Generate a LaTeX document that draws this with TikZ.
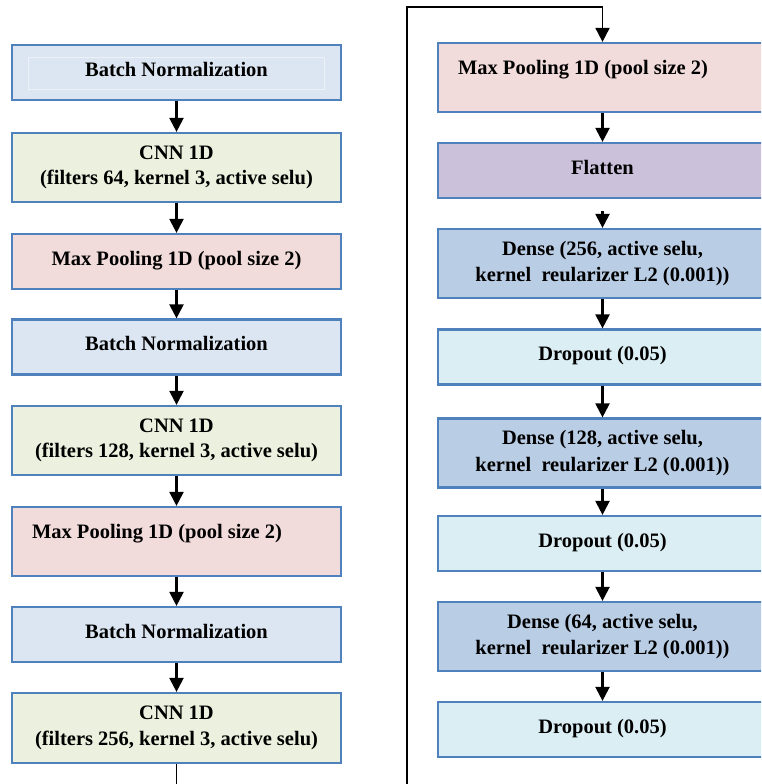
\documentclass[tikz,border=0pt]{standalone}
\usepackage{fontspec}
\setmainfont{Liberation Serif}
\usetikzlibrary{arrows.meta}
\definecolor{edgeblue}{HTML}{4F81BD}
\definecolor{bnfill}{HTML}{DCE6F2}
\definecolor{cnnfill}{HTML}{EBF1DE}
\definecolor{mpfill}{HTML}{F2DCDB}
\definecolor{flfill}{HTML}{CCC1DA}
\definecolor{dnfill}{HTML}{B9CDE5}
\definecolor{dofill}{HTML}{DBEEF4}
\tikzset{
  layer/.style={draw=edgeblue, line width=2.2pt, rectangle, minimum width=329pt,
    inner sep=0pt, align=center, font=\fontsize{20.5}{25.5}\selectfont\bfseries},
  one/.style={minimum height=55pt, text height=14pt, text depth=7pt},
  two/.style={minimum height=69pt},
  bn/.style={layer, one, fill=bnfill},
  cnn/.style={layer, two, fill=cnnfill},
  mp/.style={layer, one, fill=mpfill},
  mptop/.style={layer, two, fill=mpfill},
  fl/.style={layer, one, fill=flfill},
  dn/.style={layer, two, fill=dnfill, font=\fontsize{20.5}{26.5}\selectfont\bfseries},
  dro/.style={layer, one, fill=dofill},
  arr/.style={line width=2.2pt, -{Triangle[width=14pt,length=14pt]}},
  loopline/.style={line width=1.8pt}
}
\begin{document}
\begin{tikzpicture}[x=1pt,y=-1pt]
\useasboundingbox (0,0) rectangle (761,784);
\clip (0,0) rectangle (761,784);
% left column
\node[bn]  (b1) at (176.5,72.5) {Batch Normalization};
\draw[draw=white!45!bnfill, line width=0.7pt] (28,57) rectangle (324,89);
\node[cnn] (b2) at (176.5,167.5) {CNN 1D\\(filters 64, kernel 3, active selu)};
\node[mp]  (b3) at (176.5,261.5) {Max Pooling 1D (pool size 2)};
\node[bn]  (b4) at (176.5,347) {Batch Normalization};
\node[cnn] (b5) at (176.5,440.5) {CNN 1D\\(filters 128, kernel 3, active selu)};
\node[mptop] (b6) at (176.5,541.5) {\makebox[289pt][l]{Max Pooling 1D (pool size 2)}\\[-12pt]\strut};
\node[bn]  (b7) at (176.5,634.5) {Batch Normalization};
\node[cnn, minimum height=70pt] (b8) at (176.5,728) {CNN 1D\\(filters 256, kernel 3, active selu)};
% right column
\node[mptop] (r1) at (602.5,77.5) {\makebox[289pt][l]{Max Pooling 1D (pool size 2)}\\[-12pt]\strut};
\node[fl]  (r2) at (602.5,170.5) {Flatten};
\node[dn]  (r3) at (602.5,263.5) {Dense (256, active selu,\\kernel\ \ reularizer L2 (0.001))};
\node[dro] (r4) at (602.5,357) {Dropout (0.05)};
\node[dn]  (r5) at (602.5,453) {Dense (128, active selu,\\kernel\ \ reularizer L2 (0.001))};
\node[dro] (r6) at (602.5,543.5) {Dropout (0.05)};
\node[dn]  (r7) at (602.5,636.5) {Dense (64, active selu,\\kernel\ \ reularizer L2 (0.001))};
\node[dro] (r8) at (602.5,729.5) {Dropout (0.05)};
% arrows left
\foreach \a/\b in {b1/b2,b2/b3,b3/b4,b4/b5,b5/b6,b6/b7,b7/b8}
  \draw[arr] (\a.south) -- (\b.north);
\coordinate (lb) at (176.5,790);
\draw[loopline] (b8.south) -- (lb);
% loop to right column
\coordinate (lp) at (407,790);
\coordinate (lt) at (407,7);
\draw[arr, line width=1.8pt] (lp) -- (lt) -| (r1.north);
% arrows right
\draw[arr] (r1.south) -- (r2.north);
\draw[arr, shorten <=12pt] (r2.south) -- (r3.north);
\foreach \a/\b in {r3/r4,r4/r5,r5/r6,r6/r7,r7/r8}
  \draw[arr] (\a.south) -- (\b.north);
\end{tikzpicture}
\end{document}
